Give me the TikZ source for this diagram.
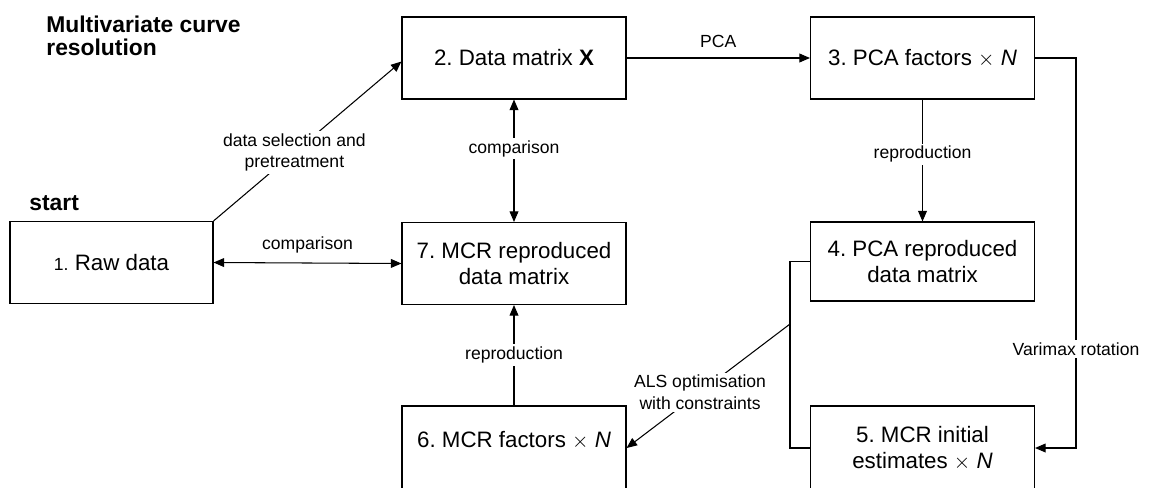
\documentclass[tikz,border=0pt]{standalone}
\usepackage{fontspec}
\setmainfont{Liberation Sans}
\usetikzlibrary{arrows.meta,calc}
\frenchspacing

\begin{document}
\begin{tikzpicture}[line width=0.6pt,
    box/.style={draw, minimum width=4.48cm, minimum height=1.64cm, align=center,
      inner sep=2pt, font=\fontsize{12.7}{15}\selectfont},
    lbl/.style={fill=white, inner sep=1.5pt, align=center, font=\fontsize{10}{12}\selectfont},
    arr/.style={-{Triangle[length=6pt,width=5pt]}},
    darr/.style={{Triangle[length=6pt,width=5pt]}-{Triangle[length=6pt,width=5pt]}}]
  \useasboundingbox (0,0) rectangle (22.98,-9.76);
  \begin{scope}
  \clip (0,0) rectangle (22.98,-9.76);
  \node[anchor=west, align=left, font=\fontsize{13}{13.2}\selectfont\bfseries] (title) at (0.8,-0.72)
    {Multivariate curve\\resolution};
  \node[anchor=west, font=\fontsize{13}{13}\selectfont\bfseries] (start) at (0.46,-4.06) {start};
  \node[box, minimum width=4.06cm] (b1) at (2.23,-5.25) {{\fontsize{10}{12}\selectfont 1.} Raw data};
  \node[box] (b2) at (10.28,-1.16) {2. Data matrix \textbf{X}};
  \node[box] (b3) at (18.45,-1.16) {3. PCA factors $\times$ \textit{N}};
  \node[box, minimum height=1.58cm] (b4) at (18.45,-5.23) {4. PCA reproduced\\data matrix};
  \node[box] (b7) at (10.28,-5.27) {7. MCR reproduced\\data matrix};
  \node[box, minimum height=1.68cm] (b5) at (18.45,-8.96) {5. MCR initial\\estimates $\times$ \textit{N}};
  \node[box, minimum height=1.68cm, text depth=0.35cm] (b6) at (10.28,-8.96) {6. MCR factors $\times$ \textit{N}};

  \coordinate (vr) at (21.52,-1.16);
  \coordinate (als) at (15.8,-6.48);

  \draw[arr] (b1.north east) -- node[lbl, pos=0.43] {data selection and\\pretreatment} ([yshift=-2pt]b2.west);
  \draw[arr] (b2.east) -- node[lbl, above=4pt, fill=none] {PCA} (b3.west);
  \draw[darr] (b2.south) -- node[lbl, pos=0.4] {comparison} (b7.north);
  \draw[darr] (b1.east) -- node[lbl, above=4pt, fill=none] {comparison} (b7.west);
  \draw[arr] (b3.south) -- node[lbl, pos=0.45] {reproduction} (b4.north);
  \draw[arr] (b6.north) -- node[lbl, pos=0.5] {reproduction} (b7.south);
  \draw (b4.west) -- ++(-0.4,0) |- (b5.west);
  \draw[arr] (als) -- node[lbl, pos=0.55] {ALS optimisation\\with constraints} (b6.east);
  \draw[arr] (b3.east) -- (vr) |- node[lbl, pos=0.373] {Varimax rotation} (b5.east);
  \end{scope}
\end{tikzpicture}
\end{document}
